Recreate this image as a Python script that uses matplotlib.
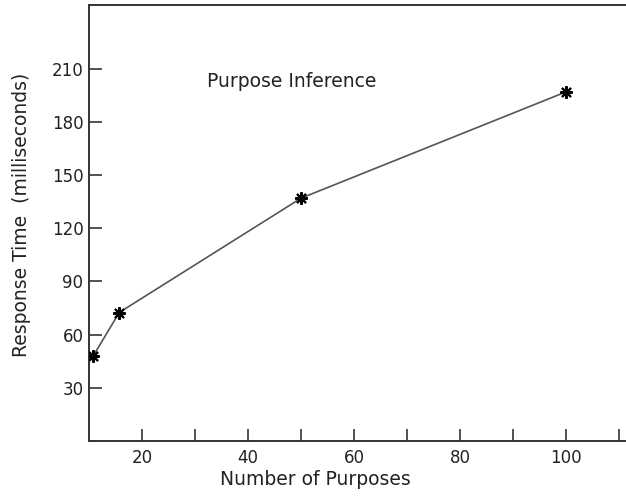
import matplotlib.pyplot as plt

# data
purposes = [10.8, 15.7, 50, 100]
response_ms = [48, 72.5, 137, 197]
x_major = [20, 40, 60, 80, 100]
x_minor = [30, 50, 70, 90, 110]
y_ticks = [30, 60, 90, 120, 150, 180, 210]

plt.rcParams['font.family'] = 'DejaVu Sans'

fig = plt.figure(figsize=(6.26, 4.97), dpi=100)
ax = fig.add_axes([89 / 626, 56 / 497, 537 / 626, 436 / 497])

ax.plot(purposes, response_ms, color='#555555', lw=1.2, zorder=2)
ax.plot(purposes, response_ms, ls='none', marker=(8, 2, 0), ms=9,
        mec='black', mew=1.5, zorder=3)

ax.set_xlim(10, 111.3)
ax.set_ylim(0, 246)
ax.set_xticks(x_major)
ax.set_xticks(x_minor, minor=True)
ax.set_yticks(y_ticks)

for side in ['left', 'bottom', 'top']:
    ax.spines[side].set_color('#333333')
    ax.spines[side].set_linewidth(1.4)
ax.spines['right'].set_visible(False)

ax.tick_params(axis='both', which='both', direction='in', length=9,
               width=1.2, color='#333333', labelsize=12, labelcolor='#222222')
ax.tick_params(axis='x', pad=6)
ax.tick_params(axis='y', pad=4)

ax.set_xlabel('Number of Purposes', fontsize=13.5, color='#222222')
ax.xaxis.set_label_coords(0.421, -0.089)
ax.set_ylabel('Response Time  (milliseconds)', fontsize=13.5, color='#222222')
ax.yaxis.set_label_coords(-0.125, 0.518)
ax.xaxis.label.set_va('center')
ax.yaxis.label.set_va('center')

ax.text(32.3, 203, 'Purpose Inference', fontsize=13.5, color='#222222',
        va='center', ha='left')

fig.savefig('out.png', dpi=100)
